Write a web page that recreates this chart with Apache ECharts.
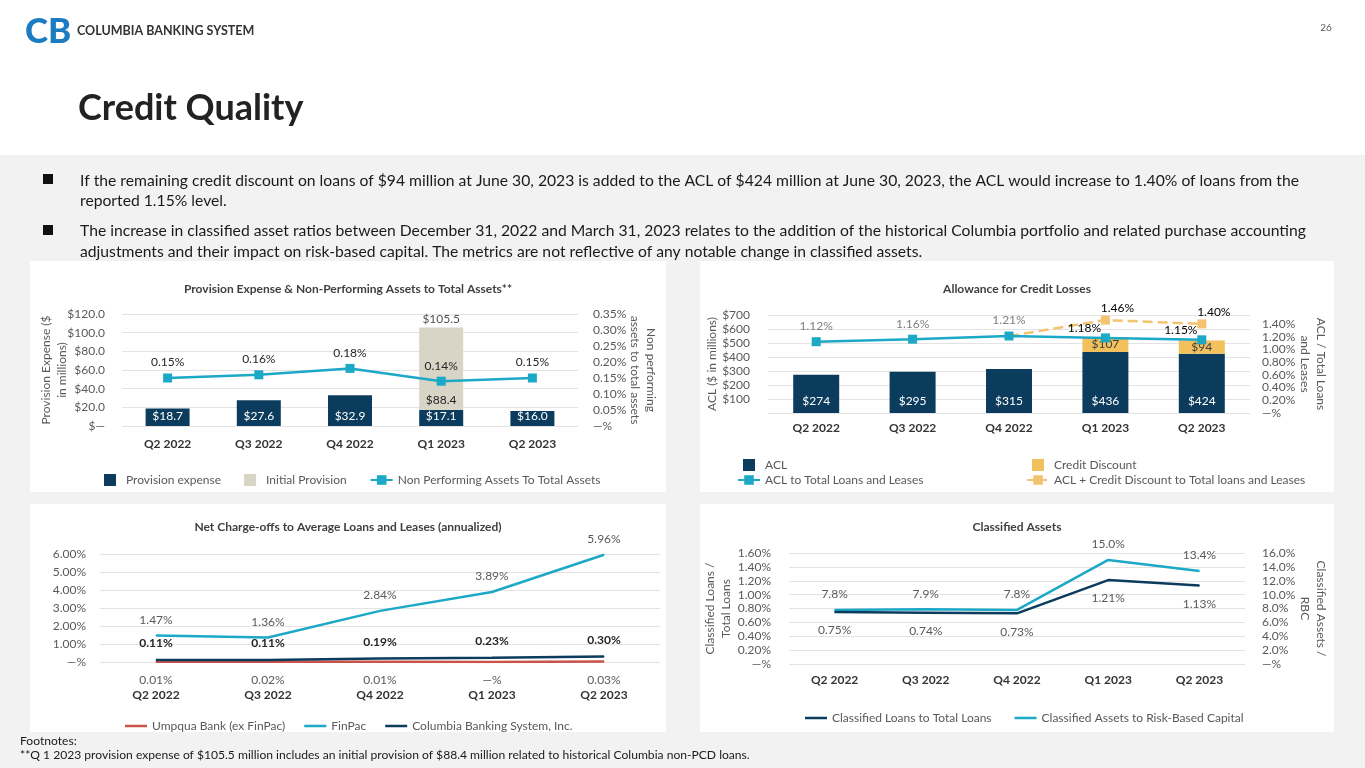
<!DOCTYPE html>
<html><head><meta charset="utf-8">
<script src="https://cdn.jsdelivr.net/npm/echarts@6/dist/echarts.min.js"></script>
<style>html,body{margin:0;padding:0;background:#fff}#c{width:1365px;height:768px}</style>
</head><body><div id="c"></div>
<script>
// ---------- data ----------
const quarters = ['Q2 2022', 'Q3 2022', 'Q4 2022', 'Q1 2023', 'Q2 2023'];

const provisionExpense = [18.7, 27.6, 32.9, 17.1, 16.0];
const initialProvision = [null, null, null, 88.4, null];
const provisionTotal = [null, null, null, 105.5, null];
const npaToAssets = [0.15, 0.16, 0.18, 0.14, 0.15];

const aclValues = [274, 295, 315, 436, 424];
const creditDiscount = [null, null, null, 107, 94];
const aclToLoans = [1.12, 1.16, 1.21, 1.18, 1.15];
const aclPlusDiscount = [null, null, 1.21, 1.46, 1.40];

const umpquaNCO = [0.01, 0.02, 0.01, 0, 0.03];
const finpacNCO = [1.47, 1.36, 2.84, 3.89, 5.96];
const columbiaNCO = [0.11, 0.11, 0.19, 0.23, 0.30];

const classifiedLoans = [0.75, 0.74, 0.73, 1.21, 1.13];
const classifiedRBC = [7.8, 7.9, 7.8, 15.0, 13.4];

const bullet1 = ['If the remaining credit discount on loans of $94 million at June 30, 2023 is added to the ACL of $424 million at June 30, 2023, the ACL would increase to 1.40% of loans from the',
                 'reported 1.15% level.'];
const bullet2 = ['The increase in classified asset ratios between December 31, 2022 and March 31, 2023 relates to the addition of the historical Columbia portfolio and related purchase accounting',
                 'adjustments and their impact on risk-based capital. The metrics are not reflective of any notable change in classified assets.'];
const footnotes = ['Footnotes:', '**Q 1 2023 provision expense of $105.5 million includes an initial provision of $88.4 million related to historical Columbia non-PCD loans.'];

// ---------- style ----------
const FONT = 'Lato';
const NAVY = '#0b3c5d', TEAL = '#1ca8c7', BEIGE = '#d8d4c6', GOLD = '#f2c05c', DASH = '#f4c370', RED = '#c9524a';
const GRIDC = '#e3e3e3', AX = '#595959', DARK = '#262626';
const num = p => (p.value && typeof p.value === 'object') ? p.value[p.value.length - 1] : p.value;
const pct2 = v => v === 0 ? '—%' : (v == null ? '' : v.toFixed(2) + '%');
const pct1 = v => v === 0 ? '—%' : (v == null ? '' : v.toFixed(1) + '%');
const SQ = 'path://M0,0h10v10h-10z';
const LN = 'path://M0,0h22v2.5h-22z';

const chart = echarts.init(document.getElementById('c'));

function txt(x, y, text, font, fill, align) {
  return { type: 'text', x: x, y: y, silent: true,
    style: { text: text, font: font, fill: fill || '#1a1a1a', textAlign: align || 'left', align: align || 'left',
             textVerticalAlign: 'middle', verticalAlign: 'middle' } };
}
function rect(x, y, w, h, fill) {
  return { type: 'rect', silent: true, z: -10, shape: { x: x, y: y, width: w, height: h }, style: { fill: fill } };
}

const graphics = [
  rect(0, 155, 1365, 613, '#f2f2f2'),
  rect(30, 261, 636, 231, '#ffffff'),
  rect(700, 261, 634, 231, '#ffffff'),
  rect(30, 504, 636, 228, '#ffffff'),
  rect(700, 504, 634, 228, '#ffffff'),
  txt(25, 32, 'CB', '900 35px ' + FONT, '#1b7cc2'),
  txt(77, 31, 'COLUMBIA BANKING SYSTEM', 'bold 12.5px ' + FONT, '#333333'),
  txt(1326, 28, '26', '10px ' + FONT, '#595959', 'center'),
  txt(78, 108, 'Credit Quality', 'bold 36px ' + FONT, '#222222'),
  { type: 'rect', silent: true, shape: { x: 43, y: 174, width: 10, height: 10 }, style: { fill: '#111' } },
  { type: 'rect', silent: true, shape: { x: 43, y: 225, width: 10, height: 10 }, style: { fill: '#111' } },
  txt(80, 181, bullet1[0], '15.7px ' + FONT, '#1a1a1a'),
  txt(80, 201, bullet1[1], '15.7px ' + FONT, '#1a1a1a'),
  txt(80, 231, bullet2[0], '15.7px ' + FONT, '#1a1a1a'),
  txt(80, 252, bullet2[1], '15.7px ' + FONT, '#1a1a1a'),
  txt(20, 741, footnotes[0], '12.1px ' + FONT, '#1a1a1a'),
  txt(20, 755, footnotes[1], '12.1px ' + FONT, '#1a1a1a')
];

const titleStyle = { fontSize: 12, fontWeight: 'bold', color: '#404040', fontFamily: FONT };
function title(text, cx, top) {
  return { text: text, left: cx, top: top, textAlign: 'center', padding: 0, textStyle: titleStyle };
}

function catAxis(gi, margin) {
  return { type: 'category', gridIndex: gi, data: quarters, axisTick: { show: false },
    axisLine: { show: false },
    axisLabel: { margin: margin, fontWeight: 'bold', fontSize: 12, color: '#333333' } };
}
function valAxis(gi, opts) {
  return Object.assign({ type: 'value', gridIndex: gi, axisLine: { show: false }, axisTick: { show: false },
    axisLabel: { color: AX, fontSize: 12 }, splitLine: { show: false }, nameMoveOverlap: false,
    nameLocation: 'middle', nameTextStyle: { color: AX, fontSize: 12, lineHeight: 16 } }, opts);
}
const split = { show: true, lineStyle: { color: GRIDC, width: 1 } };

const legendText = { color: AX, fontSize: 12, fontFamily: FONT };

function lineSeries(name, xi, yi, data, color, z, pos, dist, fmt, extraLabel) {
  return { type: 'line', name: name, xAxisIndex: xi, yAxisIndex: yi, data: data, z: z,
    symbol: 'circle', symbolSize: 1, lineStyle: { color: color, width: 2.5 }, itemStyle: { color: color },
    label: Object.assign({ show: true, position: pos, distance: dist, color: AX, fontSize: 12, formatter: p => fmt(num(p)) }, extraLabel || {}) };
}

const option = {
  animation: false,
  textStyle: { fontFamily: FONT },
  graphic: { elements: graphics },
  title: [
    title('Provision Expense & Non-Performing Assets to Total Assets**', 348, 283),
    title('Allowance for Credit Losses', 1017, 283),
    title('Net Charge-offs to Average Loans and Leases (annualized)', 348, 521),
    title('Classified Assets', 1017, 521)
  ],
  grid: [
    { left: 122, right: 1365 - 578, top: 314, bottom: 768 - 426 },
    { left: 768, right: 1365 - 1250, top: 315, bottom: 768 - 413 },
    { left: 100, right: 1365 - 660, top: 554, bottom: 768 - 662 },
    { left: 789, right: 1365 - 1245, top: 553, bottom: 768 - 664 }
  ],
  xAxis: [catAxis(0, 12), catAxis(1, 9), catAxis(2, 27), catAxis(3, 10)],
  yAxis: [
    valAxis(0, { min: 0, max: 120, interval: 20, splitLine: split,
      axisLabel: { color: AX, fontSize: 12, margin: 17, formatter: v => v === 0 ? '$—' : '$' + v.toFixed(1) },
      name: 'Provision Expense ($\nin millions)', nameRotate: 90, nameGap: 52 }),
    valAxis(0, { position: 'right', min: 0, max: 0.35, interval: 0.05,
      axisLabel: { color: AX, fontSize: 12, margin: 15, formatter: pct2 },
      name: 'Non performing\nassets to total assets', nameRotate: -90, nameGap: 49 }),
    valAxis(1, { min: 0, max: 700, interval: 100, splitLine: split,
      axisLabel: { color: AX, fontSize: 12, margin: 18, showMinLabel: false, formatter: v => '$' + v },
      name: 'ACL ($ in millions)', nameRotate: 90, nameGap: 48 }),
    valAxis(1, { position: 'right', min: 0, max: 1.54, interval: 0.2,
      axisLabel: { color: AX, fontSize: 12, margin: 12, showMaxLabel: false, formatter: pct2 },
      name: 'ACL / Total Loans\nand Leases', nameRotate: -90, nameGap: 47 }),
    valAxis(2, { min: 0, max: 6, interval: 1, splitLine: split,
      axisLabel: { color: AX, fontSize: 12, margin: 14, formatter: pct2 } }),
    valAxis(3, { min: 0, max: 1.6, interval: 0.2, splitLine: split,
      axisLabel: { color: AX, fontSize: 12, margin: 18, formatter: pct2 },
      name: 'Classified Loans /\nTotal Loans', nameRotate: 90, nameGap: 55 }),
    valAxis(3, { position: 'right', min: 0, max: 16, interval: 2,
      axisLabel: { color: AX, fontSize: 12, margin: 17, formatter: pct1 },
      name: 'Classified Assets /\nRBC', nameRotate: -90, nameGap: 52 })
  ],
  legend: [
    { left: 99, top: 469, itemWidth: 22, itemHeight: 12, itemGap: 23, textStyle: legendText,
      data: [{ name: 'Provision expense', icon: SQ }, { name: 'Initial Provision', icon: SQ }, 'Non Performing Assets To Total Assets'] },
    { left: 732, top: 454, orient: 'vertical', itemWidth: 22, itemHeight: 12, itemGap: 3, textStyle: legendText,
      data: [{ name: 'ACL', icon: SQ }, 'ACL to Total Loans and Leases'] },
    { left: 1021, top: 454, orient: 'vertical', itemWidth: 22, itemHeight: 12, itemGap: 3, textStyle: legendText,
      data: [{ name: 'Credit Discount', icon: SQ }, 'ACL + Credit Discount to Total loans and Leases'] },
    { left: 120, top: 715, itemWidth: 22, itemHeight: 12, itemGap: 19, textStyle: legendText,
      data: [{ name: 'Umpqua Bank (ex FinPac)', icon: LN }, { name: 'FinPac', icon: LN }, { name: 'Columbia Banking System, Inc.', icon: LN }] },
    { left: 800, top: 707, itemWidth: 22, itemHeight: 12, itemGap: 23, textStyle: legendText,
      data: [{ name: 'Classified Loans to Total Loans', icon: LN }, { name: 'Classified Assets to Risk-Based Capital', icon: LN }] }
  ],
  series: [
    // ---- chart 1 ----
    { type: 'bar', name: 'Provision expense', xAxisIndex: 0, yAxisIndex: 0, stack: 'prov', barWidth: 44,
      data: provisionExpense, itemStyle: { color: NAVY },
      label: { show: true, position: 'insideBottom', distance: 4, color: '#ffffff', fontSize: 12,
        formatter: p => '$' + num(p).toFixed(1) } },
    { type: 'bar', name: 'Initial Provision', xAxisIndex: 0, yAxisIndex: 0, stack: 'prov', barWidth: 44,
      data: initialProvision, itemStyle: { color: BEIGE },
      label: { show: true, position: 'insideBottom', distance: 4, color: DARK, fontSize: 12,
        formatter: p => num(p) == null ? '' : '$' + num(p).toFixed(1) } },
    { type: 'scatter', name: 'Total provision', xAxisIndex: 0, yAxisIndex: 0, data: provisionTotal,
      symbolSize: 1, itemStyle: { color: 'rgba(0,0,0,0)' }, silent: true,
      label: { show: true, position: 'top', distance: 2, color: DARK, fontSize: 12,
        formatter: p => num(p) == null ? '' : '$' + num(p).toFixed(1) } },
    { type: 'line', name: 'Non Performing Assets To Total Assets', xAxisIndex: 0, yAxisIndex: 1, z: 5,
      data: npaToAssets, symbol: 'rect', symbolSize: 9, lineStyle: { color: TEAL, width: 2.5 }, itemStyle: { color: TEAL },
      label: { show: true, position: 'top', distance: 5, color: DARK, fontSize: 12, formatter: p => pct2(num(p)) } },
    // ---- chart 2 ----
    { type: 'bar', name: 'ACL', xAxisIndex: 1, yAxisIndex: 2, stack: 'acl', barWidth: 46,
      data: aclValues, itemStyle: { color: NAVY },
      label: { show: true, position: 'insideBottom', distance: 6, color: '#ffffff', fontSize: 12, formatter: p => '$' + num(p) } },
    { type: 'bar', name: 'Credit Discount', xAxisIndex: 1, yAxisIndex: 2, stack: 'acl', barWidth: 46,
      data: creditDiscount, itemStyle: { color: GOLD },
      label: { show: true, position: 'inside', color: '#404040', fontSize: 12, formatter: p => num(p) == null ? '' : '$' + num(p) } },
    { type: 'line', name: 'ACL + Credit Discount to Total loans and Leases', xAxisIndex: 1, yAxisIndex: 3, z: 4,
      data: aclPlusDiscount.map((v, i) => i === 2 ? { value: v, symbol: 'none', label: { show: false } } : v),
      symbol: 'rect', symbolSize: 9, lineStyle: { color: DASH, width: 2.5, type: 'dashed' }, itemStyle: { color: DASH },
      label: { show: true, position: 'top', distance: 5, offset: [12, 4], color: '#000', fontSize: 12, formatter: p => pct2(num(p)) } },
    { type: 'line', name: 'ACL to Total Loans and Leases', xAxisIndex: 1, yAxisIndex: 3, z: 6,
      data: aclToLoans.map((v, i) => i >= 3 ? { value: v, label: { color: '#000', offset: [-21, 6] } } : v),
      symbol: 'rect', symbolSize: 9, lineStyle: { color: TEAL, width: 2.5 }, itemStyle: { color: TEAL },
      label: { show: true, position: 'top', distance: 5, color: '#7f7f7f', fontSize: 12, formatter: p => pct2(num(p)) } },
    // ---- chart 3 ----
    lineSeries('Umpqua Bank (ex FinPac)', 2, 4, umpquaNCO, RED, 3, 'bottom', 12, pct2),
    lineSeries('FinPac', 2, 4, finpacNCO, TEAL, 4, 'top', 9, pct2),
    lineSeries('Columbia Banking System, Inc.', 2, 4, columbiaNCO, NAVY, 5, 'top', 10, pct2, { color: DARK, fontWeight: 'bold' }),
    // ---- chart 4 ----
    lineSeries('Classified Loans to Total Loans', 3, 5, classifiedLoans, NAVY, 5, 'bottom', 12, pct2),
    lineSeries('Classified Assets to Risk-Based Capital', 3, 6, classifiedRBC, TEAL, 4, 'top', 9, pct1)
  ]
};
chart.setOption(option);
</script>
</body></html>
